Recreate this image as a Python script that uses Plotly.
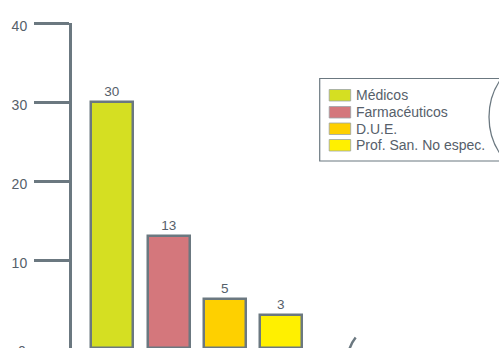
import plotly.graph_objects as go

categories = ["Médicos", "Farmacéuticos", "D.U.E.", "Prof. San. No espec."]
values = [30, 13, 5, 3]
colors = ["#d5df22", "#d4777c", "#fed000", "#fff000"]
y_ticks = [10, 20, 30, 40]

W, H = 499, 348
L, R, T, B = 71.5, 0, 23, 0
YMIN = -1.14
GRAY = "#6b7880"
TXT = "#56606a"
FONT = "Liberation Sans, Arial, sans-serif"
UNIT = 56.3          # px per category
FIRST_CENTER = 112   # px position of first bar centre

def px(x):
    return (x - L) / (W - L - R)

def py(y):
    return (H - B - y) / (H - T - B)

x0 = -(FIRST_CENTER - L) / UNIT

fig = go.Figure()
fig.add_trace(go.Bar(
    x=list(range(len(values))),
    y=[v - YMIN for v in values],
    base=YMIN,
    width=42 / UNIT,
    marker=dict(color=colors, line=dict(color=GRAY, width=2.5)),
    text=[str(v) for v in values],
    textposition="outside",
    textfont=dict(color=TXT, size=13.5, family=FONT),
    cliponaxis=False,
    showlegend=False,
    hoverinfo="skip",
))

shapes = []
annotations = []

# legend box
shapes.append(dict(type="rect", xref="paper", yref="paper",
                   x0=px(319.5), x1=px(520), y0=py(78.5), y1=py(161),
                   line=dict(color=GRAY, width=1.2), fillcolor="rgba(0,0,0,0)"))
row_tops = [89.5, 106.5, 123, 139.5]
for cat, col, top in zip(categories, colors, row_tops):
    shapes.append(dict(type="rect", xref="paper", yref="paper",
                       x0=px(329), x1=px(350.5), y0=py(top), y1=py(top + 11.5),
                       line=dict(color="#9aa3a8", width=0.8), fillcolor=col))
    annotations.append(dict(text=cat, xref="paper", yref="paper",
                            x=px(353.5), y=py(top + 5.8), xanchor="left", yanchor="middle",
                            showarrow=False, font=dict(color=TXT, size=14, family=FONT)))

# partial circle on the right (cropped neighbouring chart)
shapes.append(dict(type="circle", xref="paper", yref="paper",
                   x0=px(489), x1=px(621), y0=py(51), y1=py(183),
                   line=dict(color=GRAY, width=1.3)))
# small arc at bottom
shapes.append(dict(type="path", xref="paper", yref="paper",
                   path=f"M {px(349)},{py(350)} Q {px(351)},{py(343)} {px(355.5)},{py(337.5)}",
                   line=dict(color=GRAY, width=2.5)))

# cropped zero label
annotations.append(dict(text="0", xref="paper", yref="paper",
                        x=px(27), y=py(351), xanchor="right", yanchor="middle",
                        showarrow=False, font=dict(color=TXT, size=14, family=FONT)))

fig.update_layout(
    width=W, height=H,
    margin=dict(l=L, r=R, t=T, b=B, pad=0),
    paper_bgcolor="white", plot_bgcolor="white",
    xaxis=dict(visible=False, range=[x0, x0 + (W - L - R) / UNIT]),
    yaxis=dict(range=[YMIN, 40], tickvals=y_ticks, showgrid=False, zeroline=False,
               showline=True, linecolor=GRAY, linewidth=3,
               ticks="outside", ticklen=35, tickwidth=3, tickcolor=GRAY,
               tickfont=dict(color=TXT, size=14, family=FONT),
               ticklabelstandoff=4, ticklabelshift=3),
    shapes=shapes, annotations=annotations,
    bargap=0,
)

fig.write_html("out.html")
